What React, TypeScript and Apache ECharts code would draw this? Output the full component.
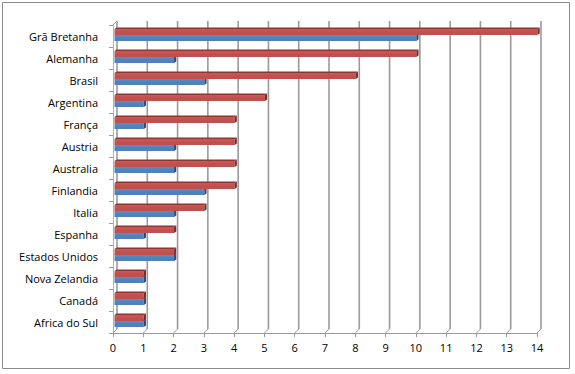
import React, { useEffect, useRef } from "react";
import * as echarts from "echarts";

const categories = [
  "Grã Bretanha",
  "Alemanha",
  "Brasil",
  "Argentina",
  "França",
  "Austria",
  "Australia",
  "Finlandia",
  "Italia",
  "Espanha",
  "Estados Unidos",
  "Nova Zelandia",
  "Canadá",
  "Africa do Sul",
];
const redValues = [14, 10, 8, 5, 4, 4, 4, 4, 3, 2, 2, 1, 1, 1];
const blueValues = [10, 2, 3, 1, 1, 2, 2, 3, 2, 1, 2, 1, 1, 1];
const xTicks = [0, 1, 2, 3, 4, 5, 6, 7, 8, 9, 10, 11, 12, 13, 14];

const DEPTH = 4;

function makeBarRender(topOff: number, botOff: number, face: string, faceLight: string, topColor: string, sideColor: string) {
  return (params: any, api: any) => {
    const val = api.value(0);
    const idx = api.value(1);
    const p0 = api.coord([0, idx]);
    const p1 = api.coord([val, idx]);
    const c = p0[1];
    const x0 = p0[0] + 1.5;
    const x1 = p1[0] + 0.5;
    const yt = c + topOff;
    const yb = c + botOff;
    const dx = 2.2;
    const dy = 1.6;
    return {
      type: "group",
      children: [
        {
          type: "polygon",
          shape: { points: [[x0, yt], [x1, yt], [x1 + dx, yt - dy], [x0 + dx, yt - dy]] },
          style: { fill: topColor },
        },
        {
          type: "rect",
          shape: { x: x0, y: yt, width: x1 - x0, height: yb - yt },
          style: {
            fill: new echarts.graphic.LinearGradient(0, 0, 0, 1, [
              { offset: 0, color: faceLight },
              { offset: 0.5, color: face },
              { offset: 1, color: face },
            ]),
          },
        },
        {
          type: "polygon",
          shape: { points: [[x1, yt], [x1 + dx, yt - dy], [x1 + dx, yb - dy], [x1, yb]] },
          style: { fill: sideColor },
        },
      ],
    };
  };
}

function wallRender(params: any, api: any) {
  const v = api.value(0);
  const cs = params.coordSys;
  const xf = api.coord([v, 0])[0];
  const bottom = cs.y + cs.height;
  const top = cs.y;
  const stroke = "#9a9a9a";
  const children: any[] = [
    {
      type: "line",
      shape: { x1: xf, y1: bottom, x2: xf + DEPTH, y2: bottom - DEPTH },
      style: { stroke, lineWidth: 1 },
    },
    {
      type: "line",
      shape: { x1: xf + DEPTH, y1: bottom - DEPTH, x2: xf + DEPTH, y2: top - DEPTH },
      style: { stroke, lineWidth: 1.6 },
    },
  ];
  if (v === 0) {
    children.push({
      type: "line",
      shape: { x1: xf, y1: top, x2: xf + DEPTH, y2: top - DEPTH },
      style: { stroke, lineWidth: 1 },
    });
  }
  return { type: "group", children };
}

export default function App() {
  const ref = useRef<HTMLDivElement>(null);
  useEffect(() => {
    if (!ref.current) return;
    const chart = echarts.init(ref.current, null, { renderer: "svg" });
    const font = "'Open Sans', sans-serif";
    chart.setOption({
      animation: false,
      backgroundColor: "#ffffff",
      graphic: [
        {
          type: "rect",
          shape: { x: 2.5, y: 2.5, width: 567, height: 366 },
          style: { fill: "none", stroke: "#8a8a8a", lineWidth: 1 },
          z: 100,
        },
      ],
      grid: { left: 113, right: 38, top: 25, bottom: 41 },
      xAxis: {
        type: "value",
        min: 0,
        max: 14,
        interval: 1,
        axisLine: { show: true, lineStyle: { color: "#9a9a9a", width: 1 } },
        axisTick: { show: true, length: 4, lineStyle: { color: "#9a9a9a" } },
        splitLine: { show: false },
        axisLabel: {
          color: "#000",
          fontFamily: font,
          fontSize: 11,
          margin: 9,
          formatter: (v: number) => String(v),
        },
      },
      yAxis: {
        type: "category",
        data: categories,
        inverse: true,
        axisLine: { show: true, lineStyle: { color: "#b0b0b0", width: 1 } },
        axisTick: { show: true, length: 4, lineStyle: { color: "#9a9a9a" } },
        splitLine: { show: false },
        axisLabel: {
          color: "#000",
          fontFamily: font,
          fontSize: 11,
          margin: 15,
        },
      },
      series: [
        {
          type: "custom",
          name: "walls",
          renderItem: wallRender,
          data: xTicks.map((v) => [v, 0]),
          encode: { x: 0, y: 1 },
          z: 1,
          silent: true,
        },
        {
          type: "custom",
          name: "Azul",
          renderItem: makeBarRender(-1, 5, "#4F81BD", "#5b8dc9", "#3b6597", "#2c4d75"),
          data: blueValues.map((v, i) => [v, i]),
          encode: { x: 0, y: 1 },
          z: 2,
        },
        {
          type: "custom",
          name: "Vermelho",
          renderItem: makeBarRender(-7, -1, "#C0504D", "#c95a57", "#8f3533", "#7a2b29"),
          data: redValues.map((v, i) => [v, i]),
          encode: { x: 0, y: 1 },
          z: 3,
        },
      ],
    });
    return () => chart.dispose();
  }, []);
  return (
    <div
      ref={ref}
      style={{ position: "fixed", left: 0, top: 0, width: 575, height: 374 }}
    />
  );
}
